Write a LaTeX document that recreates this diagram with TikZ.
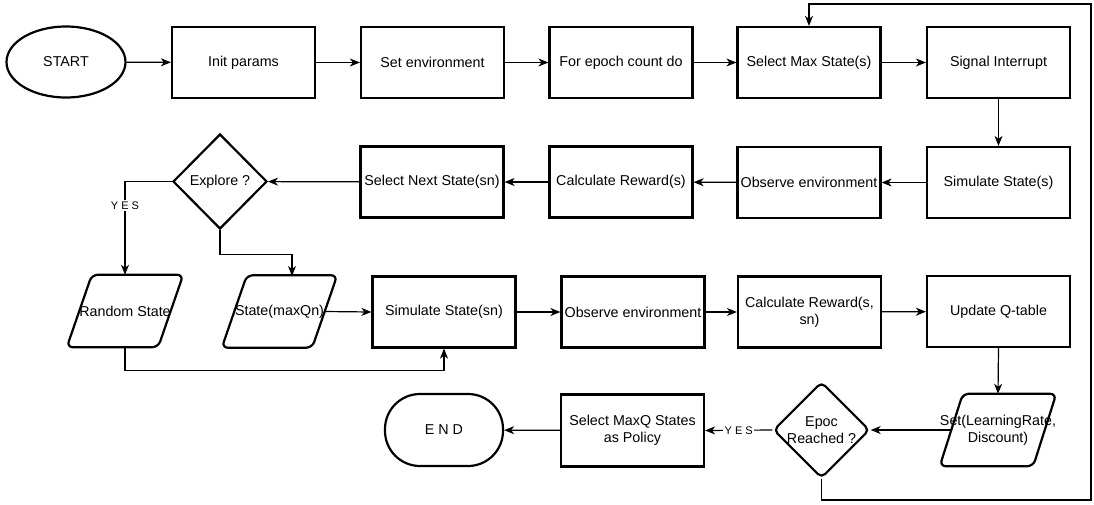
\documentclass[tikz,border=0pt]{standalone}
\usepackage{fontspec}
\setmainfont{Liberation Sans}
\usetikzlibrary{shapes.geometric,arrows.meta,calc}
\begin{document}
\begin{tikzpicture}[x=1pt,y=-1pt,
  every node/.style={font=\fontsize{14.3}{17}\selectfont, align=center, inner sep=0pt},
  stepbox/.style={draw, line width=2.2pt, rectangle, minimum width=143pt, minimum height=71pt},
  paratext/.style={rectangle, minimum width=116pt, minimum height=72pt},
  parashape/.style={draw, line width=2.2pt, rounded corners=6pt},
  decision/.style={draw, line width=2.2pt, diamond, minimum width=94pt, minimum height=95pt},
  conn/.style={line width=1.2pt, -{Stealth[length=10pt,width=8pt,inset=3pt]}},
  plain/.style={line width=1.2pt},
  yeslabel/.style={fill=white, font=\fontsize{11}{13}\selectfont, inner sep=1.5pt}
]
\useasboundingbox (0,0) rectangle (1094,504);

% ---- row 1 ----
\node[draw, line width=2.2pt, ellipse, minimum width=119pt, minimum height=71pt] (start) at (66,62) {START};
\node[stepbox] (init)  at (243.5,62.5) {Init params};
\node[stepbox] (env)   at (432.5,62.5) {Set environment};
\node[stepbox] (epoch) at (621,62.5)   {For epoch count do};
\node[stepbox] (smax)  at (809,62.5)   {Select Max State(s)};
\node[stepbox] (sig)   at (998.5,62.5) {Signal Interrupt};

% ---- row 2 ----
\node[stepbox] (sims)  at (998.5,182.5) {Simulate State(s)};
\node[stepbox] (obs1)  at (809,182.5)   {Observe environment};
\node[stepbox] (calc1) at (621,182)     {Calculate Reward(s)};
\node[stepbox] (next)  at (432,182)     {Select Next State(sn)};
\node[decision] (explore) at (220,181.5) {Explore ?};

% ---- row 3 ----
\node[paratext] (rand) at (125,311) {Random State};
\draw[parashape] ($(rand.north west)+(25,0)$) -- (rand.north east)
  -- ($(rand.south east)-(25,0)$) -- (rand.south west) -- cycle;
\node[paratext, minimum width=115pt] (smaxq) at (279.5,311.5) {State(maxQn)};
\draw[parashape] ($(smaxq.north west)+(25,0)$) -- (smaxq.north east)
  -- ($(smaxq.south east)-(25,0)$) -- (smaxq.south west) -- cycle;
\coordinate (smaxqTop) at (292,276);
\coordinate (smaxqRight) at (325,311.5);

\node[stepbox] (simsn) at (444,312)    {Simulate State(sn)};
\node[stepbox] (obs2)  at (633,312)    {Observe environment};
\node[stepbox] (calc2) at (809.5,312)  {Calculate Reward(s,\\sn)};
\node[stepbox] (upd)   at (998.5,311.5) {Update Q-table};

% ---- row 4 ----
\node[paratext] (setp) at (998,430) {Set(LearningRate,\\Discount)};
\draw[parashape] ($(setp.north west)+(23,0)$) -- (setp.north east)
  -- ($(setp.south east)-(23,0)$) -- (setp.south west) -- cycle;
\coordinate (setpLeft) at (952,430);
\node[decision, rounded corners=5pt, minimum width=91pt, minimum height=90pt] (epoc) at (821.5,430) {Epoc\\Reached ?};
\node[stepbox, minimum height=72pt] (pol) at (632.5,430.5) {Select MaxQ States\\as Policy};
\node[draw, line width=2.2pt, rectangle, rounded corners=35pt, minimum width=118pt, minimum height=72pt] (end) at (444,430) {E N D};

% loop-back corners
\coordinate (loopA) at (1091,500);
\coordinate (loopB) at (1091,4);

% ---- connectors ----
\draw[conn] (start) -- (init);
\draw[conn] (init) -- (env);
\draw[conn] (env) -- (epoch);
\draw[conn] (epoch) -- (smax);
\draw[conn] (smax) -- (sig);
\draw[conn] (sig) -- (sims);
\draw[conn] (sims) -- (obs1);
\draw[conn] (obs1) -- (calc1);
\draw[conn] (calc1) -- (next);
\draw[conn] (next) -- (explore);
\draw[conn] (explore.west) -| node[yeslabel, pos=0.63] {Y E S} (rand.north);
\draw[conn] (explore.south) -- ++(0,24) -| (smaxqTop);
\draw[conn] (rand.south) -- ++(0,23) -| (simsn.south);
\draw[conn] (smaxqRight) -- (simsn.west);
\draw[conn] (simsn) -- (obs2);
\draw[conn] (obs2) -- (calc2);
\draw[conn] (calc2) -- (upd);
\draw[conn] (upd.south) -- (setp.north);
\draw[conn] (setpLeft) -- (epoc.east);
\draw[conn] (epoc.west) -- node[yeslabel] {Y E S} (pol.east);
\draw[conn] (pol) -- (end);
\draw[conn] (epoc.south) |- (loopA) -- (loopB) -| (smax.north);
\end{tikzpicture}
\end{document}
